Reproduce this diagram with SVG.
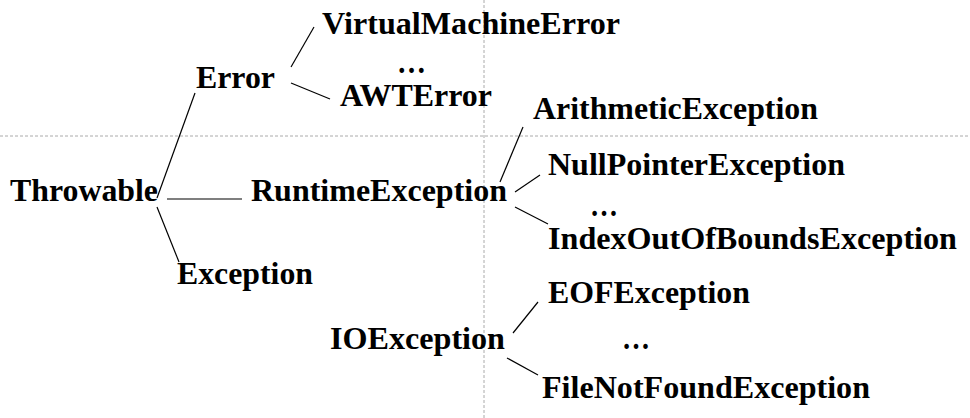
<svg xmlns="http://www.w3.org/2000/svg" width="970" height="418" viewBox="0 0 970 418">
<style>
.t{font-family:"Liberation Serif","Times New Roman",serif;font-weight:bold;font-size:31px;fill:#000}
.c line{stroke:#000;stroke-width:1.2}
.g{stroke:#aaa;stroke-width:1;stroke-dasharray:3,2;fill:none}
</style>
<rect width="970" height="418" fill="#fff"/>
<g id="guides">
<line class="g" x1="0" y1="136" x2="970" y2="136"/>
<line class="g" x1="484" y1="0" x2="484" y2="418"/>
</g>
<g class="c" id="connectors">
<line x1="157" y1="198" x2="195" y2="93"/>
<line x1="167" y1="199" x2="242" y2="199"/>
<line x1="157" y1="207" x2="179" y2="262"/>
<line x1="291" y1="67" x2="314" y2="27"/>
<line x1="291" y1="83" x2="330" y2="99"/>
<line x1="500" y1="182" x2="523" y2="127"/>
<line x1="515" y1="192" x2="540" y2="175"/>
<line x1="515" y1="207" x2="548" y2="224"/>
<line x1="513" y1="333" x2="538" y2="302"/>
<line x1="507" y1="358" x2="538" y2="375"/>
</g>
<g id="throwable"><text class="t" x="10" y="201" textLength="148" lengthAdjust="spacingAndGlyphs">Throwable</text></g>
<g id="error"><text class="t" x="196" y="88" textLength="79" lengthAdjust="spacingAndGlyphs">Error</text></g>
<g id="vme"><text class="t" x="322" y="34" textLength="298" lengthAdjust="spacingAndGlyphs">VirtualMachineError</text></g>
<g id="dots1"><text class="t" x="397" y="73" textLength="29" lengthAdjust="spacingAndGlyphs">…</text></g>
<g id="awt"><text class="t" x="340" y="106" textLength="152" lengthAdjust="spacingAndGlyphs">AWTError</text></g>
<g id="runtime"><text class="t" x="251" y="201" textLength="256" lengthAdjust="spacingAndGlyphs">RuntimeException</text></g>
<g id="arith"><text class="t" x="533" y="119" textLength="285" lengthAdjust="spacingAndGlyphs">ArithmeticException</text></g>
<g id="npe"><text class="t" x="548" y="175" textLength="297" lengthAdjust="spacingAndGlyphs">NullPointerException</text></g>
<g id="dots2"><text class="t" x="590" y="216" textLength="28" lengthAdjust="spacingAndGlyphs">…</text></g>
<g id="ioobe"><text class="t" x="548" y="249" textLength="409" lengthAdjust="spacingAndGlyphs">IndexOutOfBoundsException</text></g>
<g id="exception"><text class="t" x="177" y="284" textLength="136" lengthAdjust="spacingAndGlyphs">Exception</text></g>
<g id="ioe"><text class="t" x="330" y="349" textLength="175" lengthAdjust="spacingAndGlyphs">IOException</text></g>
<g id="eof"><text class="t" x="548" y="303" textLength="202" lengthAdjust="spacingAndGlyphs">EOFException</text></g>
<g id="dots3"><text class="t" x="622" y="349" textLength="28" lengthAdjust="spacingAndGlyphs">…</text></g>
<g id="fnfe"><text class="t" x="542" y="398" textLength="328" lengthAdjust="spacingAndGlyphs">FileNotFoundException</text></g>
</svg>
